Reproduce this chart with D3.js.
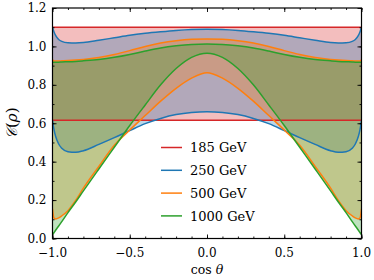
<!DOCTYPE html>
<html>
<head>
<meta charset="utf-8">
<script src="https://cdn.jsdelivr.net/npm/d3@7"></script>
<style>
  body { margin: 0; background: #fff; }
  svg { display: block; }
  text { font-family: "DejaVu Serif", serif; fill: #000; }
  .tick-label { font-size: 12px; }
  .legend text { font-size: 13px; }
</style>
</head>
<body>
<svg id="plot" width="374" height="280"></svg>
<script>
// cos(theta) sample points, shared by every curve
const cosTheta = [-1, -0.99, -0.98, -0.96, -0.94, -0.9, -0.85, -0.8, -0.7, -0.6, -0.5, -0.4, -0.3, -0.2, -0.1, 0,
    0.1, 0.2, 0.3, 0.4, 0.5, 0.6, 0.7, 0.8, 0.85, 0.9, 0.94, 0.96, 0.98, 0.99, 1]

const lo185 = [0.615, 0.615, 0.615, 0.615, 0.615, 0.615, 0.615, 0.615, 0.615, 0.615, 0.615, 0.615, 0.615, 0.615, 0.615, 0.615,
    0.615, 0.615, 0.615, 0.615, 0.615, 0.615, 0.615, 0.615, 0.615, 0.615, 0.615, 0.615, 0.615, 0.615, 0.615]
const hi185 = [1.1, 1.1, 1.1, 1.1, 1.1, 1.1, 1.1, 1.1, 1.1, 1.1, 1.1, 1.1, 1.1, 1.1, 1.1, 1.1,
    1.1, 1.1, 1.1, 1.1, 1.1, 1.1, 1.1, 1.1, 1.1, 1.1, 1.1, 1.1, 1.1, 1.1, 1.1]

const lo250 = [0.615, 0.565, 0.532, 0.492, 0.47, 0.452, 0.449, 0.457, 0.49, 0.525, 0.562, 0.598, 0.625, 0.645, 0.656, 0.66,
    0.656, 0.645, 0.625, 0.598, 0.562, 0.525, 0.49, 0.457, 0.449, 0.452, 0.47, 0.492, 0.532, 0.565, 0.615]
const hi250 = [1.1, 1.075, 1.057, 1.036, 1.026, 1.019, 1.018, 1.02, 1.032, 1.045, 1.058, 1.068, 1.076, 1.083, 1.088, 1.09,
    1.088, 1.083, 1.076, 1.068, 1.058, 1.045, 1.032, 1.02, 1.018, 1.019, 1.026, 1.036, 1.057, 1.075, 1.1]

const lo500 = [0.155, 0.106, 0.102, 0.107, 0.118, 0.145, 0.198, 0.262, 0.375, 0.485, 0.565, 0.64, 0.715, 0.782, 0.835, 0.863,
    0.835, 0.782, 0.715, 0.64, 0.565, 0.485, 0.375, 0.262, 0.198, 0.145, 0.118, 0.107, 0.102, 0.106, 0.155]
const hi500 = [0.93, 0.924, 0.924, 0.924, 0.925, 0.927, 0.929, 0.932, 0.942, 0.958, 0.978, 1.0, 1.018, 1.03, 1.037, 1.039,
    1.037, 1.03, 1.018, 1.0, 0.978, 0.958, 0.942, 0.932, 0.929, 0.927, 0.925, 0.924, 0.924, 0.924, 0.93]

const lo1000 = [0.02, 0.031, 0.043, 0.065, 0.088, 0.135, 0.19, 0.248, 0.362, 0.475, 0.588, 0.695, 0.8, 0.885, 0.943, 0.965,
    0.943, 0.885, 0.8, 0.695, 0.588, 0.475, 0.362, 0.248, 0.19, 0.135, 0.088, 0.065, 0.043, 0.031, 0.02]
const hi1000 = [0.918, 0.918, 0.918, 0.918, 0.919, 0.92, 0.922, 0.925, 0.932, 0.943, 0.958, 0.976, 0.992, 1.003, 1.01, 1.012,
    1.01, 1.003, 0.992, 0.976, 0.958, 0.943, 0.932, 0.925, 0.922, 0.92, 0.919, 0.918, 0.918, 0.918, 0.918]

const seriesNames = ['185 GeV', '250 GeV', '500 GeV', '1000 GeV']
const seriesColors = ['#d62728', '#1f77b4', '#ff7f0e', '#2ca02c']
const lowerCurves = [lo185, lo250, lo500, lo1000]
const upperCurves = [hi185, hi250, hi500, hi1000]

const xTicks = [-1, -0.5, 0, 0.5, 1]
const yTicks = [0, 0.2, 0.4, 0.6, 0.8, 1.0, 1.2]

const plotLeft = 52.5
    , plotRight = 361.5
    , plotTop = 8
    , plotBottom = 238.5
    , scaleX = d3.scaleLinear().domain([-1, 1]).range([plotLeft, plotRight])
    , scaleY = d3.scaleLinear().domain([0, 1.2]).range([plotBottom, plotTop])
    , fmt = v => d3.format('.1f')(v).replace('-', '\u2212')
    , svg = d3.select('#plot')

svg.append('defs').append('clipPath').attr('id', 'clip')
    .append('rect')
    .attr('x', plotLeft).attr('y', plotTop)
    .attr('width', plotRight - plotLeft).attr('height', plotBottom - plotTop)

const bands = seriesNames.map((name, i) => ({
    name,
    color: seriesColors[i],
    points: cosTheta.map((c, j) => ({ x: c, lo: lowerCurves[i][j], hi: upperCurves[i][j] }))
}))

const area = d3.area()
    .x(d => scaleX(d.x))
    .y0(d => scaleY(d.lo))
    .y1(d => scaleY(d.hi))
    .curve(d3.curveMonotoneX)
const lineLo = d3.line().x(d => scaleX(d.x)).y(d => scaleY(d.lo)).curve(d3.curveMonotoneX)
const lineHi = d3.line().x(d => scaleX(d.x)).y(d => scaleY(d.hi)).curve(d3.curveMonotoneX)

const plotArea = svg.append('g').attr('clip-path', 'url(#clip)')

plotArea.selectAll('path.band')
    .data(bands)
    .join('path')
    .attr('class', 'band')
    .attr('d', d => area(d.points))
    .attr('fill', d => d.color)
    .attr('fill-opacity', 0.3)
    .attr('stroke', 'none')

bands.forEach(b => {
    [lineLo, lineHi].forEach(gen => {
        plotArea.append('path')
            .attr('d', gen(b.points))
            .attr('fill', 'none')
            .attr('stroke', b.color)
            .attr('stroke-width', 1.5)
    })
})

// axes: ticks point inward on all four sides
const minorX = d3.range(-10, 11).map(v => v / 10)
    , minorY = d3.range(0, 13).map(v => v / 10)

svg.append('g')
    .attr('transform', `translate(0,${plotBottom})`)
    .call(d3.axisTop(scaleX).tickValues(minorX).tickSize(2).tickFormat(''))
svg.append('g')
    .attr('transform', `translate(0,${plotBottom})`)
    .call(d3.axisTop(scaleX).tickValues(xTicks).tickSize(4).tickFormat(''))
svg.append('g')
    .attr('transform', `translate(0,${plotTop})`)
    .call(d3.axisBottom(scaleX).tickValues(minorX).tickSize(2).tickFormat(''))
svg.append('g')
    .attr('transform', `translate(0,${plotTop})`)
    .call(d3.axisBottom(scaleX).tickValues(xTicks).tickSize(4).tickFormat(''))
svg.append('g')
    .attr('transform', `translate(${plotLeft},0)`)
    .call(d3.axisRight(scaleY).tickValues(minorY).tickSize(2).tickFormat(''))
svg.append('g')
    .attr('transform', `translate(${plotLeft},0)`)
    .call(d3.axisRight(scaleY).tickValues(yTicks).tickSize(4).tickFormat(''))
svg.append('g')
    .attr('transform', `translate(${plotRight},0)`)
    .call(d3.axisLeft(scaleY).tickValues(minorY).tickSize(2).tickFormat(''))
svg.append('g')
    .attr('transform', `translate(${plotRight},0)`)
    .call(d3.axisLeft(scaleY).tickValues(yTicks).tickSize(4).tickFormat(''))

svg.selectAll('.domain').remove()
svg.selectAll('.tick line').attr('stroke', '#000').attr('stroke-width', 0.9)

svg.append('rect')
    .attr('x', plotLeft).attr('y', plotTop)
    .attr('width', plotRight - plotLeft).attr('height', plotBottom - plotTop)
    .attr('fill', 'none').attr('stroke', '#000').attr('stroke-width', 1.2)

svg.selectAll('text.xtick')
    .data(xTicks)
    .join('text')
    .attr('class', 'tick-label xtick')
    .attr('x', d => scaleX(d))
    .attr('y', 257)
    .attr('text-anchor', 'middle')
    .text(fmt)

svg.selectAll('text.ytick')
    .data(yTicks)
    .join('text')
    .attr('class', 'tick-label ytick')
    .attr('x', 46.5)
    .attr('y', d => scaleY(d) + 4.3)
    .attr('text-anchor', 'end')
    .text(fmt)

const xLabel = svg.append('text')
    .attr('x', scaleX(0))
    .attr('y', 274)
    .attr('text-anchor', 'middle')
    .style('font-size', '12.5px')
xLabel.append('tspan').text('cos ')
xLabel.append('tspan').style('font-style', 'italic').text('θ')

const yLabel = svg.append('text')
    .attr('transform', `translate(17,${scaleY(0.6)}) rotate(-90)`)
    .attr('text-anchor', 'middle')
    .style('font-size', '15px')
yLabel.append('tspan').style('font-style', 'italic').text('𝒞')
yLabel.append('tspan').text('(')
yLabel.append('tspan').style('font-style', 'italic').text('ρ')
yLabel.append('tspan').text(')')

const legend = svg.append('g').attr('class', 'legend')
const legendRows = legend.selectAll('g')
    .data(bands)
    .join('g')
    .attr('transform', (d, i) => `translate(161,${147.5 + i * 22.8})`)
legendRows.append('line')
    .attr('x1', 0).attr('x2', 21)
    .attr('stroke', d => d.color)
    .attr('stroke-width', 1.5)
legendRows.append('text')
    .attr('x', 29)
    .attr('y', 0)
    .attr('dy', '0.36em')
    .text(d => d.name)
</script>
</body>
</html>
